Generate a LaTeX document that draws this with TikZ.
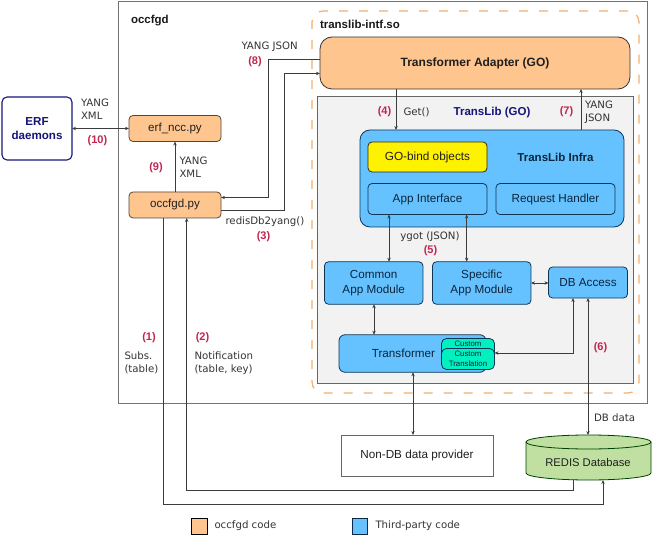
\documentclass[tikz,border=0pt]{standalone}
\usepackage{fontspec}
\setmainfont{Liberation Sans}
\newfontfamily\dvfont{DejaVu Sans}
\usetikzlibrary{arrows.meta,calc}
\definecolor{orfill}{HTML}{FFC58F}
\definecolor{ordash}{HTML}{F2AE6E}
\definecolor{blfill}{HTML}{66C2FF}
\definecolor{edgeblue}{HTML}{0F3557}
\definecolor{redlab}{HTML}{C0264F}
\definecolor{navylab}{HTML}{14147A}
\definecolor{linec}{HTML}{3C3C3C}
\definecolor{tealfill}{HTML}{00F0C0}
\definecolor{greenfill}{HTML}{BFE0A0}
\tikzset{
 every node/.style={inner sep=0pt,outer sep=0pt,align=center,text=black!88},
 boxb/.style={rectangle,draw=#1,line width=0.8pt,rounded corners=4pt},
 orb/.style={boxb=black!65!orfill,fill=orfill,font=\fontsize{11.6}{13}\selectfont},
 blb/.style={boxb=edgeblue,fill=blfill,font=\fontsize{11.7}{14.7}\selectfont,text=edgeblue!70!black},
 conn/.style={draw=linec,line width=0.7pt},
 bi/.style={conn,{Stealth[length=4pt,width=3.4pt]}-{Stealth[length=4pt,width=3.4pt]}},
 to/.style={conn,-{Stealth[length=4pt,width=3.4pt]}},
 lab/.style={font=\dvfont\fontsize{10.2}{13}\selectfont,text=black!80,align=left},
 num/.style={font=\fontsize{11}{12}\bfseries\selectfont,text=redlab},
 head/.style={font=\fontsize{11.5}{13}\bfseries\selectfont,text=black!90},
 sz/.style 2 args={minimum width=#1pt,minimum height=#2pt},
}
\begin{document}
\begin{tikzpicture}[x=1pt,y=-1pt]
\useasboundingbox (0,0) rectangle (653,537);
% containers
\node[draw=black!55,line width=1pt,sz={529}{401}] (occ) at (382.5,202.5) {};
\node[draw=ordash,dash pattern=on 9pt off 11pt,line width=1.2pt,rounded corners=11pt,sz={327}{382}] (lib) at (475.5,202) {};
\node[draw=black!60,fill=black!5,line width=0.9pt,sz={316}{287}] (tl) at (475,239.5) {};
\node[anchor=west,head] (occt) at (131,21) {occfgd};
\node[anchor=west,head] (libt) at (320,24) {translib-intf.so};
% boxes
\node[boxb=black!80,fill=orfill,rounded corners=12pt,sz={310}{52},font=\fontsize{12}{14}\bfseries\selectfont] (ta) at (475,63) {Transformer Adapter (GO)};
\node[font=\fontsize{11.5}{13}\bfseries\selectfont,text=navylab] (tlt) at (492,113) {TransLib (GO)};
\node[boxb=edgeblue,fill=blfill,rounded corners=10pt,sz={264}{97}] (inf) at (492,178.5) {};
\node[boxb=black!85,fill=yellow,sz={119}{30},font=\fontsize{11.8}{13}\selectfont] (go) at (427.5,157) {GO-bind objects};
\node[font=\fontsize{11.5}{13}\bfseries\selectfont,text=edgeblue!70!black] (inft) at (555.5,157) {TransLib Infra};
\node[blb,sz={119}{31}] (app) at (427.5,199) {App Interface};
\node[blb,sz={119}{31}] (req) at (555.5,199) {Request Handler};
\node[blb,sz={98.5}{42.5}] (com) at (373.7,283) {Common\\App Module};
\node[blb,sz={98.5}{42.5}] (spe) at (481.7,283) {Specific\\App Module};
\node[blb,sz={79}{31}] (dba) at (588,282.5) {DB Access};
\node[blb,rounded corners=6pt,sz={147}{37.5}] (tf) at (412.5,353.5) {\hspace*{-18pt}Transformer};
\node[boxb=edgeblue,fill=tealfill,rounded corners=5pt,sz={53}{27}] (cu) at (468,352) {};
\node[font=\fontsize{7.8}{9}\selectfont,text=edgeblue!70!black] (cut) at (468,343.7) {Custom};
\node[boxb=edgeblue,fill=tealfill,rounded corners=5pt,sz={53}{21},font=\fontsize{7.8}{9.5}\selectfont,text=edgeblue!70!black] (ct) at (468,359) {Custom\\Translation};
\node[draw=black!60,fill=white,line width=0.9pt,sz={152}{41},font=\fontsize{11.7}{13}\selectfont] (nondb) at (417,455.5) {Non-DB data provider};
% database drum
\fill[greenfill] (526,442) -- (526,473) arc[start angle=180,end angle=360,x radius=62.5,y radius=-7] -- (651,442) arc[start angle=0,end angle=180,x radius=62.5,y radius=-7] -- cycle;
\draw[draw=black!75!green,line width=0.8pt] (526,442) arc[start angle=180,end angle=540,x radius=62.5,y radius=7];
\draw[draw=black!75!green,line width=0.8pt] (526,442) -- (526,473) arc[start angle=180,end angle=360,x radius=62.5,y radius=-7] -- (651,442);
\node[sz={125}{45}] (red) at (588.5,457.5) {};
\node[font=\fontsize{11.2}{13}\selectfont] (redt) at (588,462) {REDIS Database};
\node[boxb=navylab,fill=white,line width=1.1pt,rounded corners=5pt,sz={70}{63},font=\fontsize{11.6}{14.7}\bfseries\selectfont,text=navylab] (erf) at (37,128.5) {ERF\\daemons};
\node[orb,sz={92}{26}] (ncc) at (175,128.5) {erf\_ncc.py};
\node[orb,sz={92}{26}] (opy) at (175,205) {occfgd.py};
% helper x / y positions
\coordinate (a8) at (268,59);
\coordinate (a3) at (284.5,73.5);
\coordinate (b8) at (268,197.5);
\coordinate (b3) at (284.5,210);
\coordinate (x4) at (396,0);
\coordinate (x7) at (581,0);
\coordinate (xa) at (389,0);
\coordinate (xb) at (466.7,0);
\coordinate (xc) at (374,0);
\coordinate (ys) at (0,283);
\coordinate (d1) at (573,298);
\coordinate (d2) at (573,353);
\coordinate (xd) at (588,0);
\coordinate (xn) at (413,0);
\coordinate (s1) at (163.5,504.5);
\coordinate (s2) at (603,504.5);
\coordinate (n1) at (573,490);
\coordinate (n2) at (186.7,490);
% connectors
\draw[bi] (erf.east) -- (ncc.west);
\draw[to] (opy.north) -- (ncc.south);
\draw[to] (ta.west |- a8) -- (a8) -- (b8) -- (opy.east |- b8);
\draw[to] (opy.east |- b3) -- (b3) -- (a3) -- (ta.west |- a3);
\draw[to] (ta.south -| x4) -- (inf.north -| x4);
\draw[to] (inf.north -| x7) -- (ta.south -| x7);
\draw[bi] (app.south -| xa) -- (com.north -| xa);
\draw[bi] (app.south -| xb) -- (spe.north -| xb);
\draw[bi] (com.south -| xc) -- (tf.north -| xc);
\draw[bi] (spe.east |- ys) -- (dba.west |- ys);
\draw[bi] (d1) -- (d2) -- (ct.east |- d2);
\draw[bi] (dba.south -| xd) -- (red.north -| xd);
\draw[bi] (tf.south -| xn) -- (nondb.north -| xn);
\draw[to] (opy.south -| s1) -- (s1) -- (s2) -- (s2 |- red.south);
\draw[to] (n1 |- red.south) -- (n1) -- (n2) -- (n2 |- opy.south);
% labels
\node[lab,anchor=west] (l8) at (241.5,47) {YANG JSON};
\node[num] (n8) at (255,62) {(8)};
\node[lab,anchor=west] (l10) at (81,109.5) {YANG\\XML};
\node[num] (n10) at (97.5,141) {(10)};
\node[num] (n9) at (156,168) {(9)};
\node[lab,anchor=west] (l9) at (179.5,167.5) {YANG\\XML};
\node[lab,anchor=west] (l3) at (225.5,222) {redisDb2yang()};
\node[num] (n3) at (263.5,237) {(3)};
\node[num] (n4) at (384.5,112) {(4)};
\node[lab,anchor=west] (l4) at (403.5,112.5) {Get()};
\node[num] (n7) at (566.5,112) {(7)};
\node[lab,anchor=west] (l7) at (585,112) {YANG\\JSON};
\node[lab] (l5) at (430,236.5) {ygot (JSON)};
\node[num] (n5) at (430.5,250.5) {(5)};
\node[num] (n6) at (600.5,348) {(6)};
\node[lab,anchor=west] (l6) at (594,418) {DB data};
\node[num] (n1t) at (149,338) {(1)};
\node[lab,anchor=west] (l1) at (124.5,363) {Subs.\\(table)};
\node[num] (n2t) at (202.5,338) {(2)};
\node[lab,anchor=west] (l2) at (194.5,363) {Notification\\(table, key)};
% legend
\node[draw=black,fill=orfill,line width=1pt,sz={15.5}{15.5}] (lg1) at (199.5,526.5) {};
\node[lab,anchor=west] (lg1t) at (214.5,526) {occfgd code};
\node[draw=edgeblue!80!black,fill=blfill,line width=1pt,sz={15.5}{15.5}] (lg2) at (360,526.5) {};
\node[lab,anchor=west] (lg2t) at (375.5,526) {Third-party code};
\end{tikzpicture}
\end{document}
